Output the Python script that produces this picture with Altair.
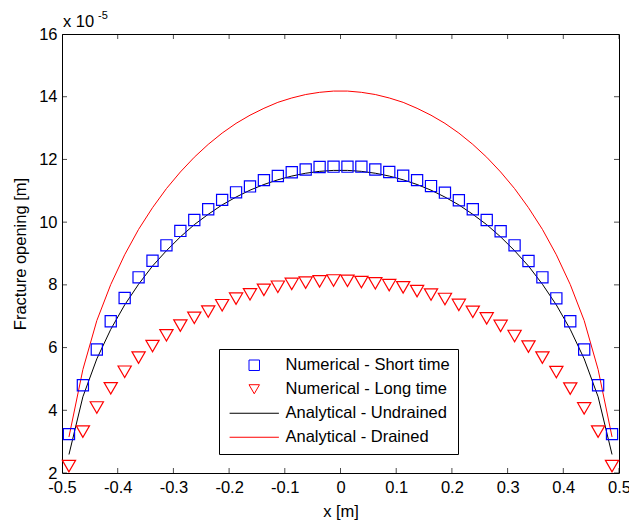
import altair as alt
import pandas as pd

# ---- data ----
x_pos = [-0.4875, -0.4625, -0.4375, -0.4125, -0.3875, -0.3625, -0.3375, -0.3125,
         -0.2875, -0.2625, -0.2375, -0.2125, -0.1875, -0.1625, -0.1375, -0.1125,
         -0.0875, -0.0625, -0.0375, -0.0125, 0.0125, 0.0375, 0.0625, 0.0875,
         0.1125, 0.1375, 0.1625, 0.1875, 0.2125, 0.2375, 0.2625, 0.2875,
         0.3125, 0.3375, 0.3625, 0.3875, 0.4125, 0.4375, 0.4625, 0.4875]

short_time = [3.24, 4.80, 5.94, 6.84, 7.58, 8.24, 8.77, 9.26, 9.72, 10.07,
              10.41, 10.71, 10.95, 11.14, 11.34, 11.47, 11.59, 11.68, 11.76, 11.77,
              11.77, 11.77, 11.68, 11.60, 11.48, 11.34, 11.15, 10.94, 10.70, 10.41,
              10.07, 9.71, 9.26, 8.76, 8.24, 7.57, 6.84, 5.94, 4.80, 3.24]

long_time = [2.22, 3.32, 4.09, 4.70, 5.23, 5.68, 6.05, 6.39, 6.70, 6.95,
             7.15, 7.35, 7.56, 7.70, 7.84, 7.94, 8.03, 8.07, 8.11, 8.14,
             8.13, 8.09, 8.05, 7.99, 7.92, 7.80, 7.69, 7.55, 7.36, 7.14,
             6.93, 6.69, 6.37, 6.03, 5.68, 5.22, 4.69, 4.06, 3.32, 2.22]

undrained = [2.59, 4.43, 5.64, 6.58, 7.36, 8.02, 8.60, 9.09, 9.53, 9.92,
             10.25, 10.55, 10.80, 11.02, 11.20, 11.35, 11.47, 11.56, 11.62, 11.65,
             11.65, 11.62, 11.56, 11.47, 11.35, 11.20, 11.02, 10.80, 10.55, 10.25,
             9.92, 9.53, 9.09, 8.60, 8.02, 7.36, 6.58, 5.64, 4.43, 2.59]

drained = [3.15, 5.30, 6.86, 8.01, 8.96, 9.77, 10.46, 11.07, 11.60, 12.07,
           12.48, 12.84, 13.15, 13.41, 13.63, 13.82, 13.96, 14.07, 14.14, 14.18,
           14.18, 14.14, 14.07, 13.96, 13.82, 13.63, 13.41, 13.15, 12.84, 12.48,
           12.07, 11.60, 11.07, 10.46, 9.77, 8.96, 8.01, 6.86, 5.30, 3.15]

series_names = ["Numerical - Short time", "Numerical - Long time",
                "Analytical - Undrained", "Analytical - Drained"]
series_colors = ["#0000ff", "#ff0000", "#000000", "#ff0000"]

x_ticks = [-0.5, -0.4, -0.3, -0.2, -0.1, 0.0, 0.1, 0.2, 0.3, 0.4, 0.5]
y_ticks = [2, 4, 6, 8, 10, 12, 14, 16]

rows = []
for name, vals in zip(series_names, [short_time, long_time, undrained, drained]):
    for xv, yv in zip(x_pos, vals):
        rows.append({"series": name, "x": xv, "y": yv})
df = pd.DataFrame(rows)

W, H = 557, 439
FONT = "Liberation Sans"
FS = 16.5
LINE_PATH = "M-4.7,0L4.7,0"

xscale = alt.Scale(domain=[-0.5, 0.5], nice=False, zero=False)
yscale = alt.Scale(domain=[2, 16], nice=False, zero=False)

legend = alt.Legend(
    title=None, orient="none", legendX=157, legendY=315, direction="vertical",
    strokeColor="black", fillColor="white", padding=8, cornerRadius=0,
    labelFont=FONT, labelFontSize=FS, labelColor="black", labelLimit=400,
    symbolSize=110, symbolStrokeWidth=1, symbolOffset=19, labelOffset=23,
    rowPadding=7, symbolFillColor="transparent",
)
color = alt.Color("series:N", scale=alt.Scale(domain=series_names, range=series_colors), legend=legend)
shape = alt.Shape("series:N", scale=alt.Scale(domain=series_names,
                  range=["square", "triangle-down", LINE_PATH, LINE_PATH]), legend=legend)

x_label_expr = ("datum.value == 0 ? '0' : (datum.value < 0 ? '-' + format(-datum.value, '.1f') "
                ": format(datum.value, '.1f'))")

x_axis = alt.Axis(
    orient="bottom", values=x_ticks, ticks=False, domain=False, grid=False,
    labelExpr=x_label_expr, labelFont=FONT, labelFontSize=FS, labelColor="black",
    labelPadding=6, labelFlush=False, title="x [m]", titleFont=FONT, titleFontSize=FS,
    titleFontWeight="normal", titleColor="black", titlePadding=8)
y_axis = alt.Axis(
    orient="left", values=y_ticks, ticks=False, domain=False, grid=False,
    labelFont=FONT, labelFontSize=FS, labelColor="black", labelPadding=5, labelFlush=False,
    title="Fracture opening [m]", titleFont=FONT, titleFontSize=FS,
    titleFontWeight="normal", titleColor="black", titlePadding=10)

X = alt.X("x:Q", scale=xscale, axis=x_axis)
Y = alt.Y("y:Q", scale=yscale, axis=y_axis)

base = alt.Chart(df)

undrained_line = base.transform_filter(alt.datum.series == series_names[2]).mark_line(
    strokeWidth=1, clip=False).encode(x=X, y=Y, color=color, order="x:Q")
drained_line = base.transform_filter(alt.datum.series == series_names[3]).mark_line(
    strokeWidth=1, clip=False).encode(x=X, y=Y, color=color, order="x:Q")
squares = base.transform_filter(alt.datum.series == series_names[0]).mark_point(
    filled=False, size=125, strokeWidth=1.2, opacity=1).encode(
    x=X, y=Y, color=color, shape=shape)
triangles = base.transform_filter(alt.datum.series == series_names[1]).mark_point(
    filled=False, size=175, strokeWidth=1.2, opacity=1).encode(
    x=X, y=Y, color=color, shape=shape)

# inward tick marks on all four sides (clipped to the plot area)
xt_df = pd.DataFrame({"x": x_ticks})
yt_df = pd.DataFrame({"y": y_ticks})
tick_bottom = alt.Chart(xt_df).mark_tick(color="black", thickness=1, size=10, clip=True).encode(
    x=X, y=alt.value(H))
tick_top = alt.Chart(xt_df).mark_tick(color="black", thickness=1, size=10, clip=True).encode(
    x=X, y=alt.value(0))
tick_left = alt.Chart(yt_df).mark_tick(color="black", thickness=1, size=10, clip=True).encode(
    y=Y, x=alt.value(0))
tick_right = alt.Chart(yt_df).mark_tick(color="black", thickness=1, size=10, clip=True).encode(
    y=Y, x=alt.value(W))

exp_main = alt.Chart(pd.DataFrame({"t": ["x 10"]})).mark_text(
    font=FONT, fontSize=FS, align="left", baseline="alphabetic", color="black").encode(
    text="t:N", x=alt.value(1), y=alt.value(-7))
exp_sup = alt.Chart(pd.DataFrame({"t": ["-5"]})).mark_text(
    font=FONT, fontSize=11, align="left", baseline="alphabetic", color="black").encode(
    text="t:N", x=alt.value(36), y=alt.value(-15))

chart = alt.layer(
    undrained_line, drained_line, squares, triangles,
    tick_bottom, tick_top, tick_left, tick_right, exp_main, exp_sup
).properties(
    width=W, height=H,
    autosize=alt.AutoSizeParams(type="none"),
    padding={"left": 62, "top": 34, "right": 10, "bottom": 50},
    background="white",
).configure_view(stroke="black", strokeWidth=1)

chart.save("out.html", embed_options={"renderer": "svg", "actions": False})
